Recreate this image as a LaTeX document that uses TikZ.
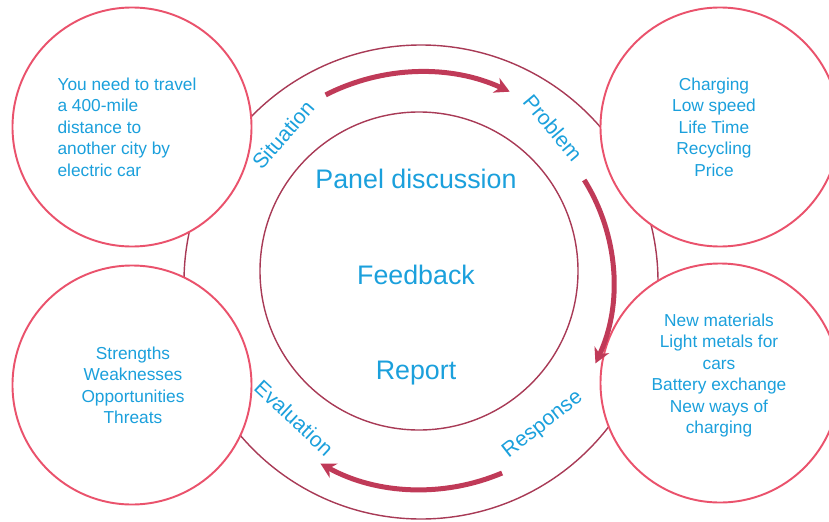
\documentclass[tikz,border=0pt]{standalone}
\usepackage{fontspec}
\setmainfont{Liberation Sans}
\usetikzlibrary{arrows.meta}
\definecolor{ringred}{RGB}{168,58,86}
\definecolor{bubblered}{RGB}{234,82,108}
\definecolor{arrowred}{RGB}{192,58,88}
\definecolor{textblue}{RGB}{27,160,220}
\tikzset{
  ring/.style={draw=ringred, line width=0.8pt, circle, inner sep=0pt},
  bubble/.style={draw=bubblered, line width=1.1pt, fill=white, circle, minimum size=4.78cm, inner sep=0pt},
  bubbletext/.style={text=textblue, align=center, inner sep=0pt, font=\fontsize{9.85}{12.24}\selectfont},
  stage/.style={text=textblue, font=\fontsize{12}{14}\selectfont},
  topic/.style={text=textblue, font=\fontsize{15.25}{18}\selectfont},
  turnflow/.style={-{Stealth[length=3mm, width=3.2mm]}, draw=arrowred, line width=1mm}
}

\begin{document}
\begin{tikzpicture}[x=1cm,y=1cm]
  \clip (-8.42,-4.78) rectangle (8.16,5.64);

  % the two rings of the cycle
  \node[ring, minimum size=9.48cm] (outer) at (0,0) {};
  \node[ring, minimum size=6.36cm] (inner) at (-0.04,0.22) {};

  \node[topic] (panel) at (-0.1,2.06) {Panel discussion};
  \node[topic] (feedback) at (-0.1,0.14) {Feedback};
  \node[topic] (report) at (-0.1,-1.82) {Report};

  % corner bubbles
  \node[bubble] (situbox) at (-5.78,3.10) {};
  \node[bubble] (probbox) at (5.98,3.10) {};
  \node[bubble] (respbox) at (5.98,-2.02) {};
  \node[bubble] (evalbox) at (-5.78,-2.06) {};

  \node[bubbletext, align=left] (situtext) at (-5.88,3.10) {You need to travel\\a 400-mile\\distance to\\another city by\\electric car};
  \node[bubbletext] (probtext) at (5.86,3.10) {Charging\\Low speed\\Life Time\\Recycling\\Price};
  \node[bubbletext] (resptext) at (5.96,-1.87) {New materials\\Light metals for\\cars\\Battery exchange\\New ways of\\charging};
  \node[bubbletext] (evaltext) at (-5.76,-2.07) {Strengths\\Weaknesses\\Opportunities\\Threats};

  % stage labels on the ring
  \node[stage, rotate=49] (situation) at (-2.76,2.94) {Situation};
  \node[stage, rotate=-50] (problem) at (2.64,3.08) {Problem};
  \node[stage, rotate=38] (response) at (2.44,-2.86) {Response};
  \node[stage, rotate=-43] (evaluation) at (-2.54,-2.72) {Evaluation};

  \coordinate (sitstart) at (117:4.2);
  \coordinate (probstart) at (32:3.85);
  \coordinate (respstart) at (-67:4.15);
  \draw[turnflow] (sitstart) arc[start angle=117, end angle=65, radius=4.2];
  \draw[turnflow] (probstart) arc[start angle=32, end angle=-25, radius=3.85];
  \draw[turnflow] (respstart) arc[start angle=-67, end angle=-119, radius=4.15];
\end{tikzpicture}
\end{document}
